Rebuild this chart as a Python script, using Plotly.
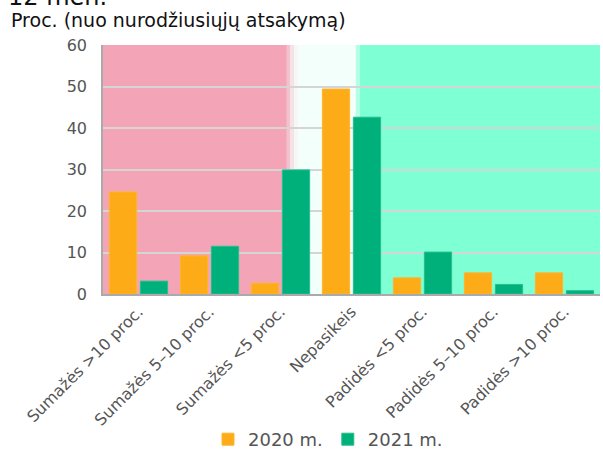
import plotly.graph_objects as go

categories = ["Sumažės >10 proc.", "Sumažės 5–10 proc.", "Sumažės <5 proc.",
              "Nepasikeis", "Padidės <5 proc.", "Padidės 5–10 proc.", "Padidės >10 proc."]
values_2020 = [24.6, 9.2, 2.6, 49.4, 3.9, 5.1, 5.1]
values_2021 = [3.1, 11.5, 29.9, 42.6, 10.1, 2.3, 0.8]
series_names = ["2020 m.", "2021 m."]
y_ticks = [0, 10, 20, 30, 40, 50, 60]

FONT = "DejaVu Sans"
W, H = 603, 453
ML, MR, MT, MB = 103, 3, 45, 159

fig = go.Figure()
fig.add_trace(go.Bar(x=categories, y=values_2020, name=series_names[0],
                     marker=dict(color="#FDAC18", line=dict(width=1, color="#FDB52E"))))
fig.add_trace(go.Bar(x=categories, y=values_2021, name=series_names[1],
                     marker=dict(color="#00B07B", line=dict(width=1, color="#22C08E"))))

# background bands (index coordinates on the category axis)
bands = [
    (-0.5, 2.09, "#F4A4B7"),
    (2.09, 2.14, "#F2C3CE"),
    (2.14, 2.19, "#F4E2E7"),
    (2.19, 2.25, "#F6F6F7"),
    (2.25, 3.06, "#F3FFFB"),
    (3.06, 3.12, "#B5FFE7"),
    (3.12, 6.5, "#7FFFD4"),
]
for x0, x1, c in bands:
    fig.add_shape(type="rect", xref="x", yref="paper", x0=x0, x1=x1, y0=0, y1=1,
                  fillcolor=c, line=dict(width=0), layer="below")

def px_to_paper_y(py):
    return (H - MB - py) / (H - MT - MB)

def px_to_paper_x(px):
    return (px - ML) / (W - ML - MR)

fig.add_annotation(text="12 mėn.", xref="paper", yref="paper",
                   x=px_to_paper_x(6), y=px_to_paper_y(13), xanchor="left", yanchor="bottom",
                   showarrow=False, font=dict(family=FONT, size=24, color="#111111"))
fig.add_annotation(text="Proc. (nuo nurodžiusiųjų atsakymą)", xref="paper", yref="paper",
                   x=px_to_paper_x(9), y=px_to_paper_y(33), xanchor="left", yanchor="bottom",
                   showarrow=False, font=dict(family=FONT, size=19, color="#111111"))

fig.update_layout(
    width=W, height=H,
    margin=dict(l=ML, r=MR, t=MT, b=MB, autoexpand=False),
    paper_bgcolor="white", plot_bgcolor="white",
    barmode="group", bargap=0.127, bargroupgap=0.12,
    font=dict(family=FONT, size=16, color="#555555"),
    showlegend=True,
    legend=dict(orientation="h", x=px_to_paper_x(328), xanchor="center",
                y=px_to_paper_y(458), yanchor="bottom",
                font=dict(family=FONT, size=18, color="#555555"),
                itemwidth=30, tracegroupgap=0, traceorder="normal"),
    xaxis=dict(tickangle=-45, showgrid=False, showline=True, linecolor="#AAAAAA",
               linewidth=2, ticks="", tickfont=dict(size=16, color="#555555"),
               range=[-0.5, 6.5], automargin=False),
    yaxis=dict(range=[0, 60], tickvals=y_ticks, showgrid=True, gridcolor="#D5D5D5",
               gridwidth=1.5, showline=True, linecolor="#AAAAAA", linewidth=1.5,
               ticks="outside", ticklen=11, tickcolor="rgba(0,0,0,0)",
               zeroline=False, tickfont=dict(size=16, color="#555555"), automargin=False),
)

fig.write_html("out.html", config={"displayModeBar": False},
               post_script="document.body.style.margin='0';document.body.style.overflow='hidden';")
